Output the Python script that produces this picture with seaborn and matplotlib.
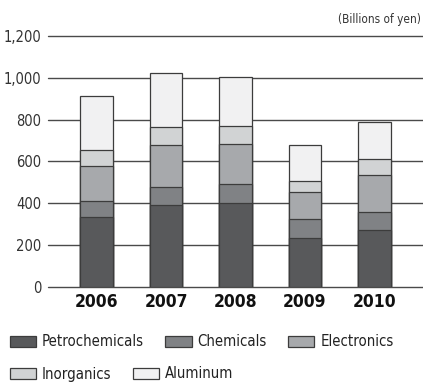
import matplotlib
matplotlib.use("Agg")
import matplotlib.pyplot as plt
from matplotlib.patches import Patch
import seaborn as sns
import pandas as pd

years = ["2006", "2007", "2008", "2009", "2010"]
segments = ["Petrochemicals", "Chemicals", "Electronics", "Inorganics", "Aluminum"]
petrochemicals = [336, 394, 400, 234, 274]
chemicals = [77, 84, 92, 93, 86]
electronics = [165, 203, 190, 127, 177]
inorganics = [75, 84, 88, 55, 73]
aluminum = [260, 258, 232, 168, 179]
y_ticks = [0, 200, 400, 600, 800, 1000, 1200]
colors = ["#58595b", "#808285", "#a7a9ac", "#d1d3d4", "#f1f1f2"]

sns.set_theme(style="white")
plt.rcParams["font.family"] = ["DejaVu Sans"]
plt.rcParams["font.stretch"] = "condensed"

df = pd.DataFrame({"year": years, "Petrochemicals": petrochemicals,
                   "Chemicals": chemicals, "Electronics": electronics,
                   "Inorganics": inorganics, "Aluminum": aluminum})
cum = df[segments].cumsum(axis=1)

fig = plt.figure(figsize=(4.23, 3.83), dpi=100)
ax = fig.add_axes([48 / 423, 1 - 287 / 383, 1 - 48 / 423, (287 - 36) / 383])

edge = "#3c3c3c"
# stacked bars: draw cumulative totals from the top segment down
for seg, col in reversed(list(zip(segments, colors))):
    sns.barplot(x=df["year"], y=cum[seg], color=col, saturation=1,
                width=0.47, edgecolor=edge, linewidth=0.9, ax=ax, zorder=3)

ax.set_xlim(-0.7, 4.7)
ax.set_ylim(0, 1200)
ax.set_yticks(y_ticks)
ax.set_yticklabels([f"{v:,}" for v in y_ticks], fontsize=10.5, color="#333333",
                   fontstretch="condensed")
ax.tick_params(axis="y", length=0, pad=5)
ax.tick_params(axis="x", length=0, pad=4)
for lab in ax.get_xticklabels():
    lab.set_fontsize(12.5)
    lab.set_fontweight("bold")
    lab.set_fontstretch("condensed")
    lab.set_color("#111111")
for v in y_ticks:
    ax.axhline(v, color="#4a4a4a", lw=1.0, zorder=1, clip_on=False)
sns.despine(ax=ax, left=True, bottom=True, top=True, right=True)
ax.set_xlabel("")
ax.set_ylabel("")

fig.text(421 / 423, 1 - 20 / 383, "(Billions of yen)", ha="right", va="center",
         fontsize=8.5, color="#333333", fontstretch="condensed")

handles = [Patch(facecolor=c, edgecolor=edge, linewidth=0.9) for c in colors]
leg_kw = dict(frameon=False, handlelength=1.75, handleheight=0.74,
              handletextpad=0.4, columnspacing=1.45, borderaxespad=0,
              borderpad=0, labelcolor="#222222",
              prop={"family": "DejaVu Sans", "stretch": "condensed", "size": 10.7})
leg1 = fig.legend(handles[:3], segments[:3], ncol=3, loc="center left",
                  bbox_to_anchor=(10 / 423, 1 - 342 / 383), **leg_kw)
leg2 = fig.legend(handles[3:], segments[3:], ncol=2, loc="center left",
                  bbox_to_anchor=(10 / 423, 1 - 374 / 383), **leg_kw)

fig.savefig("out.png", dpi=100)
